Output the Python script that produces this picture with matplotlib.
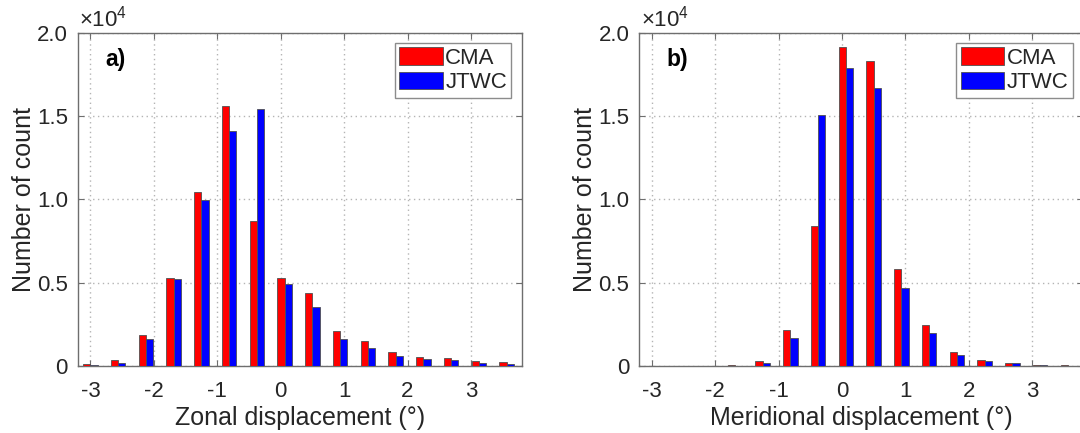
import numpy as np
import matplotlib
matplotlib.use("Agg")
import matplotlib.pyplot as plt
from matplotlib.ticker import FixedLocator
from matplotlib.patches import Patch

plt.rcParams['font.family'] = ['Liberation Sans', 'DejaVu Sans']
plt.rcParams['mathtext.fontset'] = 'custom'
plt.rcParams['mathtext.rm'] = 'Liberation Sans'
plt.rcParams['mathtext.it'] = 'Liberation Sans:italic'
plt.rcParams['mathtext.bf'] = 'Liberation Sans:bold'

# Bin centres of the displacement histograms (degrees)
bin_centers = [-3.0, -2.5625, -2.125, -1.6875, -1.25, -0.8125, -0.375, 0.0625,
               0.5, 0.9375, 1.375, 1.8125, 2.25, 2.6875, 3.125, 3.5625]

# Zonal displacement counts
zonal_cma = [100, 340, 1860, 5280, 10450, 15620, 8720, 5300,
             4400, 2080, 1510, 850, 550, 470, 290, 220]
zonal_jtwc = [70, 210, 1620, 5220, 9950, 14130, 15420, 4930,
              3540, 1600, 1110, 580, 400, 340, 180, 140]

# Meridional displacement counts
merid_cma = [10, 10, 20, 40, 300, 2140, 8420, 19160,
             18300, 5820, 2440, 830, 380, 200, 80, 40]
merid_jtwc = [10, 10, 20, 30, 180, 1670, 15100, 17920,
              16720, 4660, 2000, 690, 300, 180, 60, 30]

series_names = ['CMA', 'JTWC']
series_colors = ['#ff0000', '#0000ff']
x_ticks = [-3, -2, -1, 0, 1, 2, 3]
y_ticks = [0, 5000, 10000, 15000, 20000]
y_tick_labels = ['0', '0.5', '1.0', '1.5', '2.0']
panel_tags = ['a)', 'b)']
x_labels = ['Zonal displacement (°)', 'Meridional displacement (°)']

text_color = '#262626'
axis_color = '#6e6e6e'
grid_color = '#b4b4b4'

fig = plt.figure(figsize=(10.8, 4.33), dpi=100)
ax_w = 444 / 1080
ax_h = 333 / 433
ax_b = 67 / 433
axes = [fig.add_axes([77.7 / 1080, ax_b, ax_w, ax_h]),
        fig.add_axes([639 / 1080, ax_b, ax_w, ax_h])]

bar_w = 0.115
centers = np.array(bin_centers)
data = [(zonal_cma, zonal_jtwc), (merid_cma, merid_jtwc)]

for ax, (cma, jtwc), tag, xl in zip(axes, data, panel_tags, x_labels):
    ax.set_axisbelow(True)
    ax.bar(centers - bar_w / 2, cma, width=bar_w, color=series_colors[0],
           edgecolor='#505050', linewidth=0.6, zorder=3)
    ax.bar(centers + bar_w / 2, jtwc, width=bar_w, color=series_colors[1],
           edgecolor='#505050', linewidth=0.6, zorder=3)

    ax.set_xlim(-3.2, 3.8)
    ax.set_ylim(0, 20000)
    ax.xaxis.set_major_locator(FixedLocator(x_ticks))
    ax.yaxis.set_major_locator(FixedLocator(y_ticks))
    ax.set_xticklabels([str(t) for t in x_ticks])
    ax.set_yticklabels(y_tick_labels)

    ax.grid(True, linestyle=(0, (1, 2.5)), color=grid_color, linewidth=1.0)
    for s in ax.spines.values():
        s.set_color(axis_color)
        s.set_linewidth(1.0)
    ax.tick_params(direction='in', length=4, width=0.8, color=axis_color,
                   labelsize=16, labelcolor=text_color, top=True, right=True)
    ax.tick_params(axis='x', pad=11)
    ax.tick_params(axis='y', pad=7)
    ax.set_xlabel(xl, fontsize=18, color=text_color, labelpad=3)
    ax.set_ylabel('Number of count', fontsize=18, color=text_color, labelpad=1)

    ax.text(0.062, 0.92, tag, transform=ax.transAxes, fontsize=16.5,
            fontweight='bold', color='black', va='center', ha='left')
    ax.text(0.004, 1.005, r'$\times10^{4}$', transform=ax.transAxes,
            fontsize=16, color=text_color, ha='left', va='bottom')

    handles = [Patch(facecolor=c, edgecolor='#505050', linewidth=0.6)
               for c in series_colors]
    leg = ax.legend(handles, series_names, loc='upper right',
                    bbox_to_anchor=(0.977, 0.97), fontsize=16,
                    handlelength=1.95, handleheight=0.85, handletextpad=0.12,
                    borderpad=0.2, labelspacing=0.12, borderaxespad=0.0,
                    fancybox=False, framealpha=1.0)
    leg.get_frame().set_edgecolor('#8c8c8c')
    leg.get_frame().set_linewidth(1.0)
    for t in leg.get_texts():
        t.set_color(text_color)

fig.savefig('out.png', dpi=100)
